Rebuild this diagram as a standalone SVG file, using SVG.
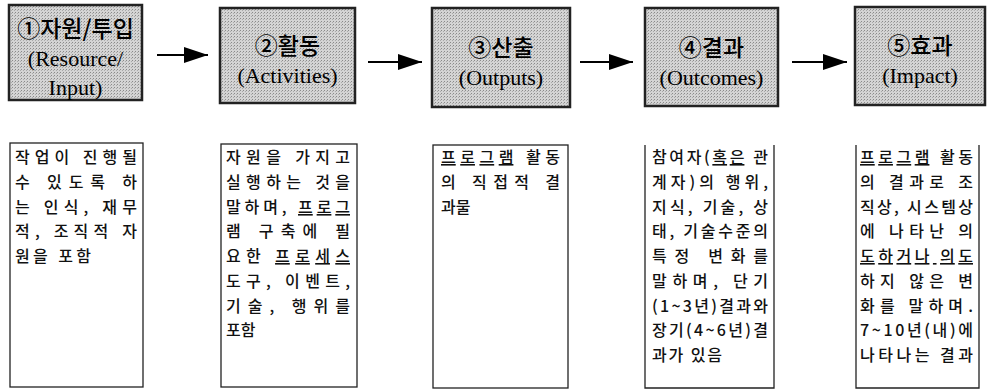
<svg xmlns="http://www.w3.org/2000/svg" width="996" height="389" viewBox="0 0 996 389">
<defs>
<pattern id="dots" width="3" height="3" patternUnits="userSpaceOnUse">
<rect width="3" height="3" fill="#d4d4d4"/>
<rect width="1" height="1" fill="#8a8a8a"/>
<rect x="2" y="1" width="1" height="1" fill="#aaaaaa"/>
</pattern>
<marker id="ah" viewBox="0 0 24 16" refX="24" refY="8" markerWidth="24" markerHeight="16" markerUnits="userSpaceOnUse" orient="auto">
<path d="M0,0 L24,8 L0,16 Z" fill="#000"/>
</marker>
<style>
.hb{fill:url(#dots);stroke:#222;stroke-width:2.5}
.ht{font-family:"Liberation Serif","Noto Sans CJK KR",serif;font-size:22px;fill:#000;text-anchor:middle}
.ko{font-family:"Noto Sans CJK KR","Liberation Serif",serif;font-weight:500;font-size:23px}
.db{fill:none;stroke:#222;stroke-width:1.3}
.bt{font-family:"Noto Sans CJK KR",sans-serif;font-size:16px;fill:#111;font-weight:500}
.u{text-decoration:underline}
.cn{stroke:#000;stroke-width:2;fill:none;marker-end:url(#ah)}
</style>
</defs>
<g id="connectors">
<line class="cn" x1="157" y1="55" x2="208" y2="55"/>
<line class="cn" x1="368" y1="62" x2="422" y2="62"/>
<line class="cn" x1="580" y1="62" x2="633" y2="62"/>
<line class="cn" x1="792" y1="62" x2="847" y2="62"/>
</g>
<g id="n1">
<rect class="hb" x="9" y="5" width="133" height="95"/>
<text class="ht" x="75.5" y="37"><tspan class="ko">①자원/투입</tspan></text>
<text class="ht" x="75.5" y="66">(Resource/</text>
<text class="ht" x="75.5" y="95">Input)</text>
</g>
<g id="n2">
<rect class="hb" x="220" y="8" width="135" height="95"/>
<text class="ht" x="287.5" y="54"><tspan class="ko">②활동</tspan></text>
<text class="ht" x="287.5" y="83">(Activities)</text>
</g>
<g id="n3">
<rect class="hb" x="432" y="8" width="138" height="99"/>
<text class="ht" x="501" y="56"><tspan class="ko">③산출</tspan></text>
<text class="ht" x="501" y="85">(Outputs)</text>
</g>
<g id="n4">
<rect class="hb" x="645" y="8" width="133" height="98"/>
<text class="ht" x="711.5" y="56"><tspan class="ko">④결과</tspan></text>
<text class="ht" x="711.5" y="85">(Outcomes)</text>
</g>
<g id="n5">
<rect class="hb" x="855" y="7" width="130" height="98"/>
<text class="ht" x="920" y="54"><tspan class="ko">⑤효과</tspan></text>
<text class="ht" x="920" y="83">(Impact)</text>
</g>
<g id="d1">
<rect class="db" x="10" y="143" width="133" height="244"/>
<text class="bt" x="15" y="163" textLength="122" lengthAdjust="spacing">작업이 진행될</text>
<text class="bt" x="15" y="188" textLength="122" lengthAdjust="spacing">수 있도록 하</text>
<text class="bt" x="15" y="213" textLength="122" lengthAdjust="spacing">는 인식, 재무</text>
<text class="bt" x="15" y="237" textLength="122" lengthAdjust="spacing">적, 조직적 자</text>
<text class="bt" x="15" y="262" textLength="76" lengthAdjust="spacing">원을 포함</text>
</g>
<g id="d2">
<rect class="db" x="221" y="144" width="136" height="243"/>
<text class="bt" x="226" y="163" textLength="124" lengthAdjust="spacing">자원을 가지고</text>
<text class="bt" x="226" y="188" textLength="124" lengthAdjust="spacing">실행하는 것을</text>
<text class="bt" x="226" y="213" textLength="124" lengthAdjust="spacing">말하며, <tspan class="u">프로그</tspan></text>
<text class="bt" x="226" y="237" textLength="124" lengthAdjust="spacing">램 구축에 필</text>
<text class="bt" x="226" y="262" textLength="124" lengthAdjust="spacing">요한 <tspan class="u">프로세스</tspan></text>
<text class="bt" x="226" y="287" textLength="124" lengthAdjust="spacing">도구, 이벤트,</text>
<text class="bt" x="226" y="312" textLength="124" lengthAdjust="spacing">기술, 행위를</text>
<text class="bt" x="226" y="336">포함</text>
</g>
<g id="d3">
<rect class="db" x="433" y="145" width="135" height="243"/>
<text class="bt" x="441" y="163" textLength="119" lengthAdjust="spacing"><tspan class="u">프로그램</tspan> 활동</text>
<text class="bt" x="441" y="188" textLength="119" lengthAdjust="spacing">의 직접적 결</text>
<text class="bt" x="441" y="213">과물</text>
</g>
<g id="d4">
<path class="db" d="M645,145 V388 H774 V145"/>
<text class="bt" x="652" y="163" textLength="116" lengthAdjust="spacing">참여자(<tspan class="u">혹은</tspan> 관</text>
<text class="bt" x="652" y="188" textLength="116" lengthAdjust="spacing">계자)의 행위,</text>
<text class="bt" x="652" y="213" textLength="116" lengthAdjust="spacing">지식, 기술, 상</text>
<text class="bt" x="652" y="237" textLength="116" lengthAdjust="spacing">태, 기술수준의</text>
<text class="bt" x="652" y="262" textLength="116" lengthAdjust="spacing">특정 변화를</text>
<text class="bt" x="652" y="287" textLength="116" lengthAdjust="spacing">말하며, 단기</text>
<text class="bt" x="652" y="312" textLength="116" lengthAdjust="spacing">(1~3년)결과와</text>
<text class="bt" x="652" y="336" textLength="116" lengthAdjust="spacing">장기(4~6년)결</text>
<text class="bt" x="652" y="361" textLength="70" lengthAdjust="spacing">과가 있음</text>
</g>
<g id="d5">
<path class="db" d="M856,145 V388 H979 V145"/>
<text class="bt" x="860" y="163" textLength="113" lengthAdjust="spacing"><tspan class="u">프로그램</tspan> 활동</text>
<text class="bt" x="860" y="188" textLength="113" lengthAdjust="spacing">의 결과로 조</text>
<text class="bt" x="860" y="213" textLength="113" lengthAdjust="spacing">직상, 시스템상</text>
<text class="bt" x="860" y="237" textLength="113" lengthAdjust="spacing">에 나타난 의</text>
<text class="bt u" x="860" y="262" textLength="113" lengthAdjust="spacing">도하거나 의도</text>
<text class="bt" x="860" y="287" textLength="113" lengthAdjust="spacing">하지 않은 변</text>
<text class="bt" x="860" y="312" textLength="113" lengthAdjust="spacing">화를 말하며.</text>
<text class="bt" x="860" y="336" textLength="113" lengthAdjust="spacing">7~10년(내)에</text>
<text class="bt" x="860" y="361" textLength="113" lengthAdjust="spacing">나타나는 결과</text>
</g>
</svg>
